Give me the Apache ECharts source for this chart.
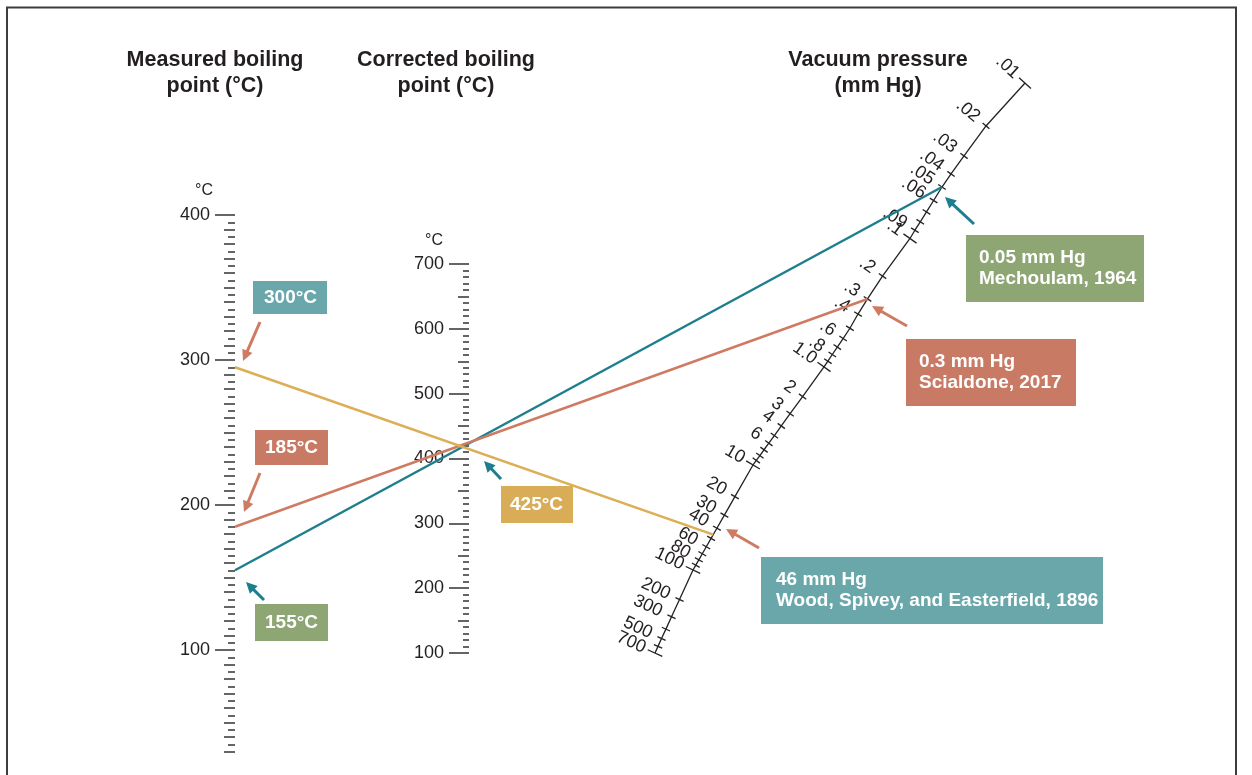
<!DOCTYPE html>
<html><head><meta charset="utf-8">
<script src="https://cdn.jsdelivr.net/npm/echarts@6/dist/echarts.min.js"></script>
<style>html,body{margin:0;padding:0;background:#fff}#chart{width:1252px;height:775px}</style>
</head><body><div id="chart"></div>
<script>
// ---------------- data ----------------
const measuredLabelTicks = [100, 200, 300, 400];
const correctedLabelTicks = [100, 200, 300, 400, 500, 600, 700];

// pressure scale (mm Hg) and its nomogram calibration
// U: horizontal position in nomogram units (measured scale = 0, corrected scale = 1)
// T: height expressed in measured-boiling-point units (°C)
const pressureTicks  = [0.01,0.02,0.03,0.04,0.05,0.06,0.07,0.08,0.09,0.1,
                        0.2,0.3,0.4,0.5,0.6,0.7,0.8,0.9,1,
                        2,3,4,5,6,7,8,9,10,
                        20,30,40,50,60,70,80,90,100,
                        200,300,400,500,600,700];
const pressureLabels = ['.01','.02','.03','.04','.05','.06','','','.09','.1',
                        '.2','.3','.4','','.6','','.8','','1.0',
                        '2','3','4','','6','','','','10',
                        '20','30','40','','60','','80','','100',
                        '200','300','','500','','700'];
const pressureMajor  = [0.01, 0.1, 1, 10, 100, 700];
const pressureScaleU = [3.3906,3.2232,3.1288,3.0730,3.0343,2.9983,2.9678,2.9412,2.9180,2.8970,
                        2.7790,2.7146,2.6738,2.6391,2.6099,2.5850,2.5635,2.5446,2.5279,
                        2.4361,2.3824,2.3446,2.3150,2.2910,2.2704,2.2528,2.2373,2.2232,
                        2.1455,2.1004,2.0682,2.0433,2.0227,2.0056,1.9906,1.9777,1.9657,
                        1.9077,1.8734,1.8494,1.8305,1.8155,1.8026];
const pressureScaleT = [491.0,461.4,440.7,428.3,419.3,410.0,402.1,395.3,389.5,383.8,
                        357.9,342.1,331.7,321.9,314.8,308.9,303.8,299.2,295.2,
                        274.8,263.0,254.5,247.9,242.6,238.1,234.1,230.7,227.6,
                        205.8,193.0,184.0,177.0,171.2,166.4,162.2,158.5,155.2,
                        134.8,122.9,114.4,107.9,102.5,97.9];

// worked examples
const sources        = ['Mechoulam, 1964', 'Scialdone, 2017', 'Wood, Spivey, and Easterfield, 1896'];
const measuredBP     = [155, 185, 295];
const measuredText   = ['155°C', '185°C', '300°C'];
const pressures      = [0.05, 0.3, 46];
const pressureText   = ['0.05 mm Hg', '0.3 mm Hg', '46 mm Hg'];
const correctedBP    = [425, 425, 425];
const correctedText  = '425°C';

// ---------------- styling ----------------
const FONT = '"Liberation Sans", Arial, Helvetica, sans-serif';
const INK = '#231f20';
const TICK = {color: '#333', width: 1.5};
const LINE_COLORS = ['#1d7f8e', '#cf7b62', '#dcae55'];
const TEAL_BOX = '#69a7ab', RED_BOX = '#c97a65', GREEN_BOX = '#8ea574', YELLOW_BOX = '#d9ad57';
const TEAL_ARROW = '#1d7f8e', RED_ARROW = '#cf7b62';

function pressurePoint(p) {
  const lp = Math.log10(p);
  for (let i = 0; i < pressureTicks.length - 1; i++) {
    const a = Math.log10(pressureTicks[i]), b = Math.log10(pressureTicks[i + 1]);
    if (lp >= a && lp <= b) {
      const f = (lp - a) / (b - a);
      return [pressureScaleU[i] + f * (pressureScaleU[i + 1] - pressureScaleU[i]),
              pressureScaleT[i] + f * (pressureScaleT[i + 1] - pressureScaleT[i])];
    }
  }
  return null;
}

function tickAxis(gridIndex, min, max, interval, len) {
  return {gridIndex, type: 'value', min, max, interval, position: 'left', offset: 0,
    axisLine: {show: false}, splitLine: {show: false},
    axisTick: {show: true, length: len, lineStyle: TICK},
    axisLabel: {show: false}};
}

const chart = echarts.init(document.getElementById('chart'), null, {renderer: 'canvas'});

const n = pressureTicks.length;
const series = [
  {
    type: 'line', xAxisIndex: 0, yAxisIndex: 2, silent: true, clip: false, z: 3,
    symbol: 'none', animation: false,
    data: pressureTicks.map((p, i) => [pressureScaleU[i], pressureScaleT[i]]),
    lineStyle: {color: '#222', width: 1.3}
  },
  {
    type: 'custom', xAxisIndex: 0, yAxisIndex: 2, silent: true, clip: false, z: 4, animation: false,
    data: pressureTicks.map((p, i) => [pressureScaleU[i], pressureScaleT[i], i]),
    renderItem(params, api) {
      const i = api.value(2);
      const p = api.coord([api.value(0), api.value(1)]);
      const i0 = Math.max(0, i - 1), i1 = Math.min(n - 1, i + 1);
      const a = api.coord([pressureScaleU[i0], pressureScaleT[i0]]);
      const b = api.coord([pressureScaleU[i1], pressureScaleT[i1]]);
      let dx = b[0] - a[0], dy = b[1] - a[1];
      const L = Math.hypot(dx, dy); dx /= L; dy /= L;
      const nx = -dy, ny = dx; // normal pointing up-left (label side)
      const major = pressureMajor.indexOf(pressureTicks[i]) >= 0;
      const h = major ? 8 : 4.5;
      const children = [{
        type: 'line',
        shape: {x1: p[0] - nx * h, y1: p[1] - ny * h, x2: p[0] + nx * h, y2: p[1] + ny * h},
        style: {stroke: '#222', lineWidth: 1.3}
      }];
      if (pressureLabels[i]) {
        const off = 11;
        const rot = -Math.atan2(-ny, -nx);
        children.push({
          type: 'text', x: p[0] + nx * off, y: p[1] + ny * off, rotation: rot,
          style: {text: pressureLabels[i], fill: INK, font: '18px ' + FONT,
                  align: 'right', verticalAlign: 'middle'}
        });
      }
      return {type: 'group', children};
    }
  }
];
sources.forEach((s, k) => {
  series.push({
    type: 'line', name: s, xAxisIndex: 0, yAxisIndex: 2, silent: true, clip: false, z: 6,
    symbol: 'none', animation: false,
    data: [[0, measuredBP[k]], pressurePoint(pressures[k])],
    lineStyle: {color: LINE_COLORS[k], width: 2.5}
  });
});

function arrow(x1, y1, x2, y2, color) {
  const dx = x2 - x1, dy = y2 - y1, L = Math.hypot(dx, dy), ux = dx / L, uy = dy / L;
  const hl = 11, hw = 5.5;
  const bx = x2 - ux * hl, by = y2 - uy * hl;
  return [
    {type: 'line', shape: {x1, y1, x2: bx + ux, y2: by + uy}, style: {stroke: color, lineWidth: 3}},
    {type: 'polygon', shape: {points: [[x2, y2], [bx - uy * hw, by + ux * hw], [bx + uy * hw, by - ux * hw]]},
     style: {fill: color}}
  ];
}
function box(x, y, w, h, color, text, tx) {
  return [
    {type: 'rect', shape: {x, y, width: w, height: h}, style: {fill: color}},
    {type: 'text', x: tx, y: y + h / 2,
     style: {text, fill: '#fff', font: 'bold 19px ' + FONT, lineHeight: 21,
             align: 'left', verticalAlign: 'middle'}}
  ];
}
function title(x, text) {
  return {type: 'text', x, y: 73,
    style: {text, fill: INK, font: 'bold 21.5px ' + FONT, lineHeight: 26, align: 'center', verticalAlign: 'middle'}};
}

const graphics = [
  {type: 'rect', shape: {x: 7, y: 7.5, width: 1229, height: 800}, style: {fill: 'none', stroke: '#3d3d3d', lineWidth: 2}},
  title(215, 'Measured boiling\npoint (°C)'),
  title(446, 'Corrected boiling\npoint (°C)'),
  title(878, 'Vacuum pressure\n(mm Hg)'),
  ...box(253, 281, 74, 33, TEAL_BOX, measuredText[2], 264),
  ...box(255, 430, 73, 35, RED_BOX, measuredText[1], 265),
  ...box(255, 604, 73, 37, GREEN_BOX, measuredText[0], 265),
  ...box(501, 486, 72, 37, YELLOW_BOX, correctedText, 510),
  ...box(966, 235, 178, 67, GREEN_BOX, pressureText[0] + '\n' + sources[0], 979),
  ...box(906, 339, 170, 67, RED_BOX, pressureText[1] + '\n' + sources[1], 919),
  ...box(761, 557, 342, 67, TEAL_BOX, pressureText[2] + '\n' + sources[2], 776),
  ...arrow(260, 322, 243, 361, RED_ARROW),
  ...arrow(260, 473, 244, 512, RED_ARROW),
  ...arrow(264, 600, 246, 582, TEAL_ARROW),
  ...arrow(501, 479, 484, 461, TEAL_ARROW),
  ...arrow(974, 224, 945, 197, TEAL_ARROW),
  ...arrow(907, 326, 872, 306, RED_ARROW),
  ...arrow(759, 548, 726, 529, RED_ARROW)
];

chart.setOption({
  animation: false,
  backgroundColor: '#fff',
  textStyle: {fontFamily: FONT},
  grid: [
    {left: 235, top: 215, width: 932, height: 536.5},
    {left: 469, top: 264, width: 100, height: 389}
  ],
  xAxis: [
    {gridIndex: 0, type: 'value', min: 0, max: 4, show: false},
    {gridIndex: 1, type: 'value', min: 0, max: 1, show: false}
  ],
  yAxis: [
    tickAxis(0, 30, 400, 5, 7),
    tickAxis(0, 30, 400, 10, 11),
    {gridIndex: 0, type: 'value', min: 30, max: 400, position: 'left', offset: 0,
     axisLine: {show: false}, splitLine: {show: false},
     axisTick: {show: true, length: 20, lineStyle: TICK, customValues: measuredLabelTicks},
     axisLabel: {show: true, customValues: measuredLabelTicks, margin: 25, fontSize: 18, color: INK, fontFamily: FONT},
     name: '°C', nameLocation: 'end', nameGap: 16,
     nameTextStyle: {fontSize: 16, color: INK, fontFamily: FONT, align: 'right', padding: [0, 22, 0, 0]}},
    tickAxis(1, 100, 700, 10, 6),
    tickAxis(1, 100, 700, 50, 11),
    {gridIndex: 1, type: 'value', min: 100, max: 700, interval: 100, position: 'left', offset: 0,
     axisLine: {show: false}, splitLine: {show: false},
     axisTick: {show: true, length: 20, lineStyle: TICK},
     axisLabel: {show: true, margin: 25, fontSize: 18, color: INK, fontFamily: FONT,
                 formatter: v => correctedLabelTicks.indexOf(v) >= 0 ? String(v) : ''},
     name: '°C', nameLocation: 'end', nameGap: 15,
     nameTextStyle: {fontSize: 16, color: INK, fontFamily: FONT, align: 'right', padding: [0, 26, 0, 0]}}
  ],
  series,
  graphic: {elements: graphics}
});
</script></body></html>
